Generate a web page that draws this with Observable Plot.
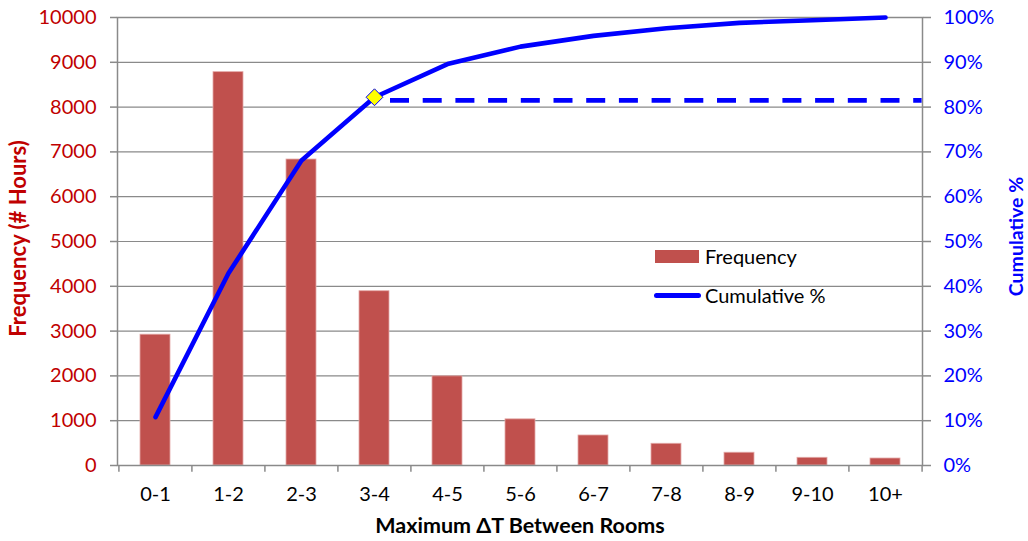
<!DOCTYPE html>
<html>
<head>
<meta charset="utf-8">
<script src="https://cdn.jsdelivr.net/npm/d3@7"></script>
<script src="https://cdn.jsdelivr.net/npm/@observablehq/plot@0.6"></script>
<style>
  html, body { margin: 0; padding: 0; background: #fff; }
  #chart { position: relative; width: 1028px; height: 541px; font-family: Lato, "Noto Sans", sans-serif; }
  #chart svg { display: block; }
  .legend { position: absolute; left: 653px; top: 244px; font-family: Lato, sans-serif; font-size: 20px; color: #000; }
  .legend .row { display: flex; align-items: center; height: 24px; }
  .legend .sw { width: 48px; margin-right: 4px; display: flex; align-items: center; justify-content: center; }
</style>
</head>
<body>
<div id="chart"></div>
<script>
const categories = ["0-1", "1-2", "2-3", "3-4", "4-5", "5-6", "6-7", "7-8", "8-9", "9-10", "10+"];
const frequency = [2920, 8780, 6830, 3890, 1990, 1030, 670, 485, 285, 172, 156];
const cumulativePct = [10.8, 42.9, 68.1, 82.2, 89.6, 93.5, 95.9, 97.6, 98.8, 99.4, 100];
const markerCategory = ["3-4"];
const markerPct = [82.2];
const thresholdPct = [81.5];
const leftTicks = [0, 1000, 2000, 3000, 4000, 5000, 6000, 7000, 8000, 9000, 10000];
const rightTicks = [0, 10, 20, 30, 40, 50, 60, 70, 80, 90, 100];

const RED = "#C00000", BLUE = "#0000FF", BAR = "#C0504D", GRAY = "#8a8a8a";
const W = 1028, H = 541, ML = 117, MR = 106, MT = 17, MB = 76;
const PAD_IN = 0.59, PAD_OUT = 0.295;
const step = (W - ML - MR) / categories.length;
const bandwidth = step * (1 - PAD_IN);

const data = categories.map((c, i) => ({cat: c, freq: frequency[i], cum: cumulativePct[i]}));

const plot = Plot.plot({
  width: W, height: H,
  marginLeft: ML, marginRight: MR, marginTop: MT, marginBottom: MB,
  style: {fontFamily: "Lato, sans-serif", fontSize: "20px", background: "#fff"},
  x: {domain: categories, paddingInner: PAD_IN, paddingOuter: PAD_OUT},
  y: {domain: [0, 10000]},
  marks: [
    Plot.gridY(leftTicks, {stroke: GRAY, strokeOpacity: 1, strokeWidth: 1.2}),
    Plot.barY(data, {x: "cat", y: "freq", fill: BAR, stroke: "#e3a9a7", strokeWidth: 0.8}),
    Plot.frame({stroke: GRAY, strokeWidth: 1.5}),
    Plot.ruleX(categories, {x: d => d, y1: 0, y2: -150, dx: -step / 2, stroke: GRAY, strokeWidth: 1.5}),
    Plot.ruleX(categories.slice(-1), {x: d => d, y1: 0, y2: -150, dx: step / 2, stroke: GRAY, strokeWidth: 1.5}),
    Plot.axisY(leftTicks, {anchor: "left", tickSize: 7, tickPadding: 14, stroke: GRAY, strokeWidth: 1.5, fill: RED, fontSize: 20, label: null, tickFormat: d => String(d)}),
    Plot.axisY(rightTicks.map(p => p * 100), {anchor: "right", tickSize: 8, tickPadding: 13, stroke: GRAY, strokeWidth: 1.5, fill: BLUE, fontSize: 20, label: null, tickFormat: d => (d / 100) + "%"}),
    Plot.axisX({tickSize: 0, tickPadding: 21, fill: "#000", fontSize: 20, label: null}),
    Plot.line(data, {x: "cat", y: d => d.cum * 100, stroke: BLUE, strokeWidth: 4.6, strokeLinecap: "round", strokeLinejoin: "round"}),
    Plot.ruleY(thresholdPct.map(p => p * 100), {
      x1: () => markerCategory[0], x2: () => categories[categories.length - 1],
      insetLeft: bandwidth + 1, insetRight: -step * PAD_OUT,
      stroke: BLUE, strokeWidth: 4.6, strokeDasharray: "19,13.7"
    }),
    Plot.dot(markerCategory.map((c, i) => ({cat: c, pct: markerPct[i]})), {x: "cat", y: d => d.pct * 100, symbol: "diamond2", r: 7.6, fill: "#FFFF00", stroke: BLUE, strokeWidth: 1}),
    Plot.text(["Frequency (# Hours)"], {frameAnchor: "left", dx: -99, dy: -3, rotate: -90, text: d => d, fill: RED, fontWeight: "bold", fontSize: 22, textAnchor: "middle"}),
    Plot.text(["Cumulative %"], {frameAnchor: "right", dx: 94, dy: -5, rotate: -90, text: d => d, fill: BLUE, fontWeight: "bold", fontSize: 19.5, textAnchor: "middle"}),
    Plot.text(["Maximum ΔT Between Rooms"], {frameAnchor: "bottom", dy: 67, text: d => d, fill: "#000", fontWeight: "bold", fontSize: 21.5, textAnchor: "middle"})
  ]
});

const chart = document.getElementById("chart");
chart.appendChild(plot);

const legend = document.createElement("div");
legend.className = "legend";
legend.innerHTML = `
  <div class="row"><div class="sw"><div style="width:44px;height:13px;background:${BAR}"></div></div><span>Frequency</span></div>
  <div class="row" style="margin-top:15px"><div class="sw"><div style="width:47px;height:5px;border-radius:3px;background:${BLUE}"></div></div><span>Cumulative %</span></div>
`;
chart.appendChild(legend);
</script>
</body>
</html>
